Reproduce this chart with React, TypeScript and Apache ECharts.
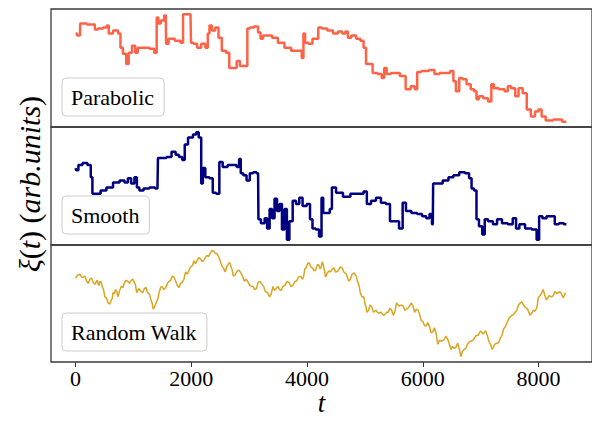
import React, { useEffect, useRef } from "react";
import * as echarts from "echarts";

// Time stamps and signal values (arb. units) for the three stacked traces.
const parabolicT = [0, 48, 77, 82, 304, 362, 419, 533, 556, 590, 704, 761, 790, 846, 903, 932, 1017, 1046, 1103, 1217, 1330, 1388, 1415, 1444, 1501, 1559, 1569, 1644, 1786, 1843, 1872, 1986, 2003, 2072, 2128, 2214, 2270, 2299, 2328, 2385, 2441, 2499, 2555, 2641, 2670, 2756, 2812, 2868, 2954, 2983, 3039, 3125, 3183, 3210, 3268, 3354, 3439, 3552, 3667, 3781, 3894, 3923, 3952, 3980, 4065, 4123, 4179, 4209, 4294, 4407, 4492, 4578, 4636, 4692, 4721, 4807, 4892, 4949, 5005, 5034, 5091, 5176, 5262, 5320, 5347, 5405, 5491, 5547, 5661, 5747, 5833, 5889, 5918, 6031, 6174, 6231, 6345, 6431, 6516, 6543, 6602, 6658, 6715, 6800, 6858, 6914, 6943, 7000, 7086, 7171, 7200, 7256, 7371, 7456, 7483, 7569, 7627, 7684, 7769, 7825, 7911, 7969, 8026, 8082, 8168, 8338, 8482];
const parabolicV = [9.4, 9.2, 9.2, 10.4, 10.3, 9.8, 9.9, 10.0, 10.2, 9.4, 9.7, 9.4, 8.0, 7.4, 6.4, 7.5, 8.2, 7.5, 8.0, 8.0, 7.9, 7.5, 11.0, 10.4, 10.7, 11.2, 8.4, 8.9, 8.7, 8.5, 11.3, 11.3, 8.5, 8.4, 8.0, 8.4, 8.0, 9.4, 10.2, 9.7, 10.0, 9.0, 7.7, 7.5, 6.0, 6.0, 6.7, 6.2, 6.2, 9.9, 10.0, 10.1, 9.5, 8.9, 9.2, 9.2, 9.0, 8.5, 8.0, 7.7, 7.7, 7.0, 9.4, 8.5, 8.4, 8.9, 8.9, 10.0, 9.9, 9.7, 9.4, 9.6, 9.4, 9.6, 9.0, 9.2, 8.9, 8.7, 8.0, 6.4, 6.4, 5.5, 5.4, 5.0, 6.0, 5.4, 5.5, 5.5, 5.2, 3.9, 4.2, 3.9, 5.6, 5.7, 5.8, 5.4, 5.5, 5.5, 5.7, 4.7, 3.7, 5.0, 4.9, 4.4, 3.9, 3.7, 2.9, 3.2, 3.0, 2.7, 4.4, 4.0, 3.9, 3.7, 4.2, 4.0, 3.2, 4.0, 3.5, 1.9, 1.2, 1.7, 1.9, 1.2, 0.8, 0.9, 0.7];

const smoothT = [0, 21, 77, 162, 248, 277, 304, 390, 475, 590, 704, 817, 875, 932, 988, 1046, 1073, 1132, 1217, 1330, 1415, 1432, 1530, 1615, 1701, 1757, 1815, 1872, 1901, 1986, 2072, 2099, 2157, 2185, 2214, 2270, 2356, 2385, 2470, 2499, 2585, 2670, 2756, 2812, 2841, 2868, 2927, 2983, 3039, 3097, 3154, 3166, 3239, 3296, 3325, 3381, 3410, 3467, 3496, 3552, 3581, 3637, 3667, 3723, 3781, 3838, 3894, 3952, 4038, 4065, 4123, 4179, 4236, 4265, 4294, 4379, 4407, 4453, 4550, 4692, 4807, 4949, 5005, 5063, 5149, 5234, 5320, 5405, 5462, 5547, 5633, 5672, 5747, 5860, 5945, 6031, 6089, 6145, 6174, 6185, 6287, 6402, 6487, 6573, 6688, 6773, 6829, 6858, 6914, 6943, 7000, 7056, 7086, 7171, 7256, 7312, 7427, 7512, 7598, 7627, 7712, 7825, 7940, 7996, 8026, 8111, 8168, 8253, 8311, 8396, 8482];
const smoothV = [7.7, 7.5, 8.0, 8.2, 8.0, 6.8, 5.2, 5.2, 5.5, 5.8, 6.3, 6.5, 6.3, 6.7, 6.2, 6.8, 5.8, 5.5, 5.7, 5.8, 5.7, 8.7, 8.7, 8.8, 9.3, 9.0, 8.8, 8.5, 10.0, 10.7, 11.0, 11.2, 10.7, 6.2, 7.7, 6.8, 6.7, 5.3, 5.2, 8.3, 7.8, 8.0, 8.0, 7.8, 8.6, 7.2, 7.0, 6.5, 7.2, 7.3, 7.2, 2.7, 2.3, 2.8, 1.8, 3.7, 2.8, 4.7, 3.5, 4.2, 1.7, 3.7, 0.7, 2.5, 4.5, 4.2, 4.8, 4.0, 4.2, 2.7, 1.8, 1.7, 1.0, 4.8, 3.3, 3.3, 3.7, 5.8, 5.3, 4.9, 5.2, 5.2, 5.4, 4.2, 4.5, 4.8, 4.3, 4.2, 2.5, 2.5, 1.8, 4.3, 3.5, 3.3, 3.2, 3.0, 2.8, 3.2, 2.2, 6.2, 6.2, 6.5, 6.8, 7.0, 7.3, 7.2, 6.7, 5.7, 5.5, 2.7, 2.0, 1.2, 2.7, 2.5, 2.2, 2.7, 2.3, 2.2, 2.8, 1.8, 2.2, 1.8, 1.7, 0.7, 3.0, 2.8, 3.0, 3.0, 2.2, 2.3, 2.2];

// Random walk: main readings plus the in-between wiggles of the trace
const walkT = [0, 77, 133, 191, 248, 304, 362, 390, 419, 465, 504, 561, 619, 646, 692, 732, 790, 846, 903, 961, 1017, 1056, 1132, 1188, 1244, 1303, 1342, 1388, 1444, 1491, 1559, 1615, 1672, 1730, 1786, 1843, 1901, 1957, 2014, 2043, 2099, 2157, 2214, 2270, 2328, 2368, 2414, 2470, 2526, 2585, 2641, 2687, 2726, 2783, 2858, 2915, 2983, 3039, 3097, 3154, 3222, 3279, 3354, 3410, 3467, 3525, 3581, 3655, 3723, 3791, 3850, 3923, 3962, 4008, 4065, 4123, 4179, 4226, 4265, 4321, 4379, 4436, 4492, 4578, 4636, 4721, 4778, 4851, 4892, 4920, 4978, 5005, 5034, 5091, 5149, 5234, 5320, 5376, 5433, 5491, 5547, 5633, 5689, 5803, 5860, 5918, 5974, 6031, 6089, 6145, 6203, 6260, 6316, 6402, 6487, 6543, 6602, 6658, 6715, 6773, 6829, 6914, 7000, 7086, 7142, 7200, 7285, 7341, 7398, 7456, 7542, 7598, 7655, 7713, 7769, 7855, 7911, 7969, 7996, 8082, 8139, 8225, 8282, 8367, 8424, 8465];
const walkV = [8.3, 8.7, 8.4, 8.0, 8.2, 7.9, 8.0, 7.7, 8.0, 7.4, 6.5, 5.9, 6.2, 6.9, 7.2, 6.5, 7.5, 7.9, 8.0, 8.1, 7.9, 6.9, 7.0, 7.3, 6.9, 6.2, 5.3, 5.9, 6.9, 7.5, 7.4, 8.0, 8.5, 8.0, 7.4, 7.9, 8.9, 9.0, 9.5, 10.0, 10.0, 10.2, 10.0, 10.5, 10.7, 11.0, 10.7, 10.4, 9.5, 8.9, 9.7, 9.4, 8.5, 8.9, 8.8, 8.0, 7.9, 7.5, 7.2, 7.9, 7.7, 7.0, 6.5, 7.5, 7.3, 7.2, 7.5, 8.0, 7.5, 8.0, 8.4, 8.2, 9.2, 9.7, 9.4, 9.0, 9.6, 9.2, 9.9, 8.4, 9.0, 9.2, 8.9, 9.4, 8.9, 8.0, 8.7, 8.5, 7.7, 6.9, 6.5, 5.7, 5.0, 5.7, 5.0, 4.9, 4.7, 5.0, 5.4, 4.7, 5.9, 5.7, 5.2, 5.9, 5.0, 5.2, 4.2, 3.7, 4.0, 3.0, 3.5, 1.9, 2.2, 2.7, 1.4, 1.5, 2.0, 0.7, 1.4, 1.9, 2.2, 2.7, 3.2, 3.2, 2.2, 1.4, 2.0, 2.5, 3.4, 4.0, 4.7, 5.0, 5.7, 6.0, 5.5, 4.7, 5.2, 5.4, 6.4, 7.2, 6.2, 6.5, 7.0, 7.0, 6.4, 6.9];
const walkWiggleT = [38, 105, 162, 220, 276, 333, 376, 404, 442, 484, 532, 590, 632, 669, 712, 761, 818, 874, 932, 989, 1036, 1094, 1160, 1216, 1274, 1322, 1365, 1416, 1468, 1525, 1587, 1644, 1701, 1758, 1815, 1872, 1929, 1986, 2028, 2071, 2128, 2186, 2242, 2299, 2348, 2391, 2442, 2498, 2556, 2613, 2664, 2706, 2754, 2820, 2886, 2949, 3011, 3068, 3126, 3188, 3250, 3316, 3382, 3438, 3496, 3553, 3618, 3689, 3757, 3820, 3886, 3942, 3985, 4036, 4094, 4151, 4202, 4245, 4293, 4350, 4407, 4464, 4535, 4607, 4678, 4750, 4814, 4872, 4906, 4949, 4992, 5020, 5062, 5120, 5192, 5277, 5348, 5404, 5462, 5519, 5590, 5661, 5746, 5832, 5889, 5946, 6002, 6060, 6117, 6174, 6232, 6288, 6359, 6444, 6515, 6572, 6630, 6686, 6744, 6801, 6872, 6957, 7043, 7114, 7171, 7242, 7313, 7370, 7427, 7499, 7570, 7626, 7684, 7741, 7812, 7883, 7940, 7982, 8039, 8110, 8182, 8254, 8324, 8396, 8444];
const walkWiggleV = [8.6, 8.4, 8.5, 7.8, 8.3, 7.7, 8.1, 7.6, 7.9, 7.2, 6.4, 5.8, 6.3, 6.8, 7.0, 7.1, 7.4, 8.1, 7.8, 8.2, 7.6, 7.3, 6.9, 7.4, 6.8, 5.9, 5.5, 6.2, 7.4, 7.2, 7.8, 8.1, 8.4, 7.6, 7.8, 8.2, 8.7, 9.4, 9.6, 9.7, 10.3, 9.9, 10.3, 10.4, 10.9, 10.9, 10.7, 10.0, 9.3, 9.4, 9.8, 9.1, 8.6, 9.1, 8.5, 8.2, 7.6, 7.5, 7.3, 8.0, 7.5, 6.9, 6.8, 7.1, 7.5, 7.1, 7.6, 7.9, 7.6, 8.0, 8.5, 8.5, 9.3, 9.8, 9.3, 9.1, 9.6, 9.4, 9.3, 8.8, 8.9, 9.3, 9.0, 9.3, 8.7, 8.2, 8.8, 8.0, 7.4, 6.5, 6.2, 5.5, 5.2, 5.5, 5.2, 5.0, 4.8, 5.0, 5.2, 5.1, 5.6, 5.6, 5.4, 5.6, 5.3, 4.8, 4.1, 3.7, 3.6, 3.1, 2.9, 2.3, 2.3, 2.2, 1.7, 1.6, 1.5, 1.2, 1.5, 2.1, 2.3, 2.8, 2.9, 2.8, 1.9, 1.9, 2.1, 2.8, 3.6, 4.5, 4.8, 5.2, 5.9, 5.7, 5.3, 4.9, 5.1, 5.8, 6.7, 6.6, 6.6, 6.6, 6.8, 6.8, 6.6];

const tTicks = [0, 2000, 4000, 6000, 8000];
const seriesNames = ["Parabolic", "Smooth", "Random Walk"];
const seriesColors = ["#ff6347", "#000080", "#daa520"];

const SERIF = "Liberation Serif";
const T_MIN = -425;
const T_MAX = 8925;

// Panel geometry (px): three stacked plots sharing the time axis
const PANEL_LEFT = 51;
const PANEL_WIDTH = 546;
const panelTops = [9, 127, 245];
const panelHeights = [118, 118, 117];

function pairs(t: number[], v: number[]) {
  return t.map((x, i) => [x, v[i]]);
}

export default function App() {
  const ref = useRef<HTMLDivElement>(null);

  useEffect(() => {
    if (!ref.current) return;
    const chart = echarts.init(ref.current, null, { renderer: "svg" });

    const walk = pairs(walkT, walkV)
      .concat(pairs(walkWiggleT, walkWiggleV))
      .sort((a, b) => a[0] - b[0]);

    const dataSets = [pairs(parabolicT, parabolicV), pairs(smoothT, smoothV), walk];
    const widths = [2.5, 2.5, 1.5];
    const steps: (string | false)[] = ["middle", "middle", false];

    const grids = panelTops.map((top, i) => ({
      left: PANEL_LEFT,
      top,
      width: PANEL_WIDTH,
      height: panelHeights[i],
      show: true,
      borderColor: "#3a3a3a",
      borderWidth: 1.3,
      backgroundColor: "transparent",
    }));

    const xAxes = panelTops.map((_, i) => {
      const bottom = i === 2;
      return {
        type: "value",
        gridIndex: i,
        min: T_MIN,
        max: T_MAX,
        show: bottom,
        axisLine: { show: false },
        splitLine: { show: false },
        axisTick: {
          show: bottom,
          customValues: tTicks,
          length: 5,
          lineStyle: { color: "#333333", width: 1 },
        },
        axisLabel: {
          show: bottom,
          customValues: tTicks,
          formatter: (v: number) => String(v),
          margin: 5,
          fontFamily: SERIF,
          fontSize: 22,
          color: "#000000",
        },
        name: bottom ? "t" : "",
        nameLocation: "middle",
        nameGap: 18,
        nameTextStyle: {
          fontFamily: SERIF,
          fontStyle: "italic",
          fontSize: 27,
          color: "#000000",
        },
      };
    });

    const yAxes = panelTops.map((_, i) => ({
      type: "value",
      gridIndex: i,
      show: false,
      scale: true,
      min: (e: { min: number; max: number }) => e.min - 0.05 * (e.max - e.min),
      max: (e: { min: number; max: number }) => e.max + 0.05 * (e.max - e.min),
      splitLine: { show: false },
    }));

    const series = seriesNames.map((name, i) => ({
      name,
      type: "line",
      xAxisIndex: i,
      yAxisIndex: i,
      data: dataSets[i],
      step: steps[i],
      showSymbol: false,
      symbol: "none",
      color: seriesColors[i],
      lineStyle: { color: seriesColors[i], width: widths[i] },
    }));

    const legends = seriesNames.map((name, i) => ({
      data: [name],
      left: 62,
      top: panelTops[i] + panelHeights[i] - 11 - 38,
      orient: "horizontal",
      icon: "rect",
      itemWidth: 0,
      itemHeight: 0,
      itemGap: 0,
      selectedMode: false,
      padding: [8, 10, 8, 4],
      backgroundColor: "rgba(255,255,255,0.8)",
      borderColor: "#cccccc",
      borderWidth: 1,
      borderRadius: 4,
      textStyle: {
        fontFamily: SERIF,
        fontSize: 22,
        lineHeight: 22,
        color: "#000000",
      },
    }));

    chart.setOption({
      animation: false,
      backgroundColor: "#ffffff",
      grid: grids,
      xAxis: xAxes,
      yAxis: yAxes,
      legend: legends,
      series,
      graphic: [
        {
          type: "text",
          x: 29,
          y: 184,
          rotation: Math.PI / 2,
          style: {
            text: "{i|ξ}{n|(}{i|t}{n|)} {n|(}{i|arb.units}{n|)}",
            align: "center",
            verticalAlign: "middle",
            fontFamily: SERIF,
            fontSize: 30,
            fill: "#000000",
            rich: {
              i: { fontFamily: SERIF, fontStyle: "italic", fontSize: 30, color: "#000000" },
              n: { fontFamily: SERIF, fontSize: 30, color: "#000000" },
            },
          },
        },
      ],
    });

    return () => chart.dispose();
  }, []);

  return (
    <div
      ref={ref}
      style={{ position: "fixed", left: 0, top: 0, width: 592, height: 424 }}
    />
  );
}
